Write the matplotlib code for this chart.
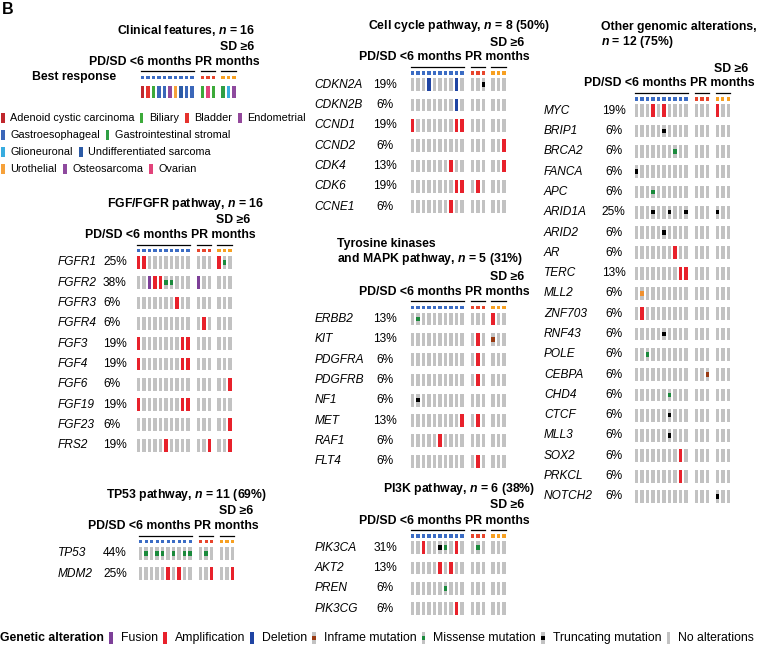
import numpy as np
import matplotlib.pyplot as plt

plt.rcParams['font.family'] = ['Liberation Sans', 'DejaVu Sans']
plt.rcParams['mathtext.fontset'] = 'custom'
plt.rcParams['mathtext.it'] = 'Liberation Sans:italic:bold'

# ---- data ----
# column order: 10 PD/SD <6 months, 3 PR, 3 SD >=6 months
tumor_per_patient = ['Adenoid cystic carcinoma', 'Bladder', 'Biliary', 'Gastroesophageal',
                     'Gastroesophageal', 'Endometrial', 'Urothelial', 'Undifferentiated sarcoma',
                     'Gastroesophageal', 'Gastroesophageal',
                     'Biliary', 'Ovarian', 'Biliary',
                     'Gastrointestinal stromal', 'Glioneuronal', 'Osteosarcoma']
response = ['PD'] * 10 + ['PR'] * 3 + ['SD'] * 3

tumor_legend_rows = [['Adenoid cystic carcinoma', 'Biliary', 'Bladder', 'Endometrial'],
                     ['Gastroesophageal', 'Gastrointestinal stromal'],
                     ['Glioneuronal', 'Undifferentiated sarcoma'],
                     ['Urothelial', 'Osteosarcoma', 'Ovarian']]

# codes: . none, A amplification, D deletion, F fusion, M missense, T truncating, I inframe, O other
fgf_genes = ['FGFR1', 'FGFR2', 'FGFR3', 'FGFR4', 'FGF3', 'FGF4', 'FGF6', 'FGF19', 'FGF23', 'FRS2']
fgf_pct = ['25%', '38%', '6%', '6%', '19%', '19%', '6%', '19%', '6%', '19%']
fgf_alt = ['AA........' '...' 'AM.',
           '..FAAMM...' 'F..' '...',
           '.......A..' '...' '...',
           '..........' '.A.' '...',
           'A.......AA' '...' '...',
           'A.......AA' '...' '...',
           '..........' '...' '..A',
           'A.......AA' '...' '...',
           '..........' '...' '..A',
           '.....A....' '..A' '..A']

tp53_genes = ['TP53', 'MDM2']
tp53_pct = ['44%', '25%']
tp53_alt = ['.M.MM.M.MM' '.M.' '...',
            '.....A.A..' '..A' '..A']

cc_genes = ['CDKN2A', 'CDKN2B', 'CCND1', 'CCND2', 'CDK4', 'CDK6', 'CCNE1']
cc_pct = ['19%', '6%', '19%', '6%', '13%', '19%', '6%']
cc_alt = ['...D....D.' '..T' '...',
          '........D.' '...' '...',
          'A.......AA' '...' '...',
          '..........' '...' '..A',
          '.......A..' '...' '..A',
          '........AA' '.A.' '...',
          '.......A..' '...' '...']

tk_genes = ['ERBB2', 'KIT', 'PDGFRA', 'PDGFRB', 'NF1', 'MET', 'RAF1', 'FLT4']
tk_pct = ['13%', '13%', '6%', '6%', '6%', '13%', '6%', '6%']
tk_alt = ['.M........' '...' 'A..',
          '..........' '.A.' 'I..',
          '..........' '.A.' '...',
          '..........' '.A.' '...',
          '.T........' '...' '...',
          '.........A' '.A.' '...',
          '.....A....' '...' '...',
          '..........' '.A.' '...']

pi3k_genes = ['PIK3CA', 'AKT2', 'PREN', 'PIK3CG']
pi3k_pct = ['31%', '13%', '6%', '6%']
pi3k_alt = ['..A..TM.A.' '.M.' '...',
            '.....A.A..' '...' '...',
            '......M...' '...' '...',
            '........A.' '...' '...']

oth_genes = ['MYC', 'BRIP1', 'BRCA2', 'FANCA', 'APC', 'ARID1A', 'ARID2', 'AR', 'TERC', 'MLL2',
             'ZNF703', 'RNF43', 'POLE', 'CEBPA', 'CHD4', 'CTCF', 'MLL3', 'SOX2', 'PRKCL', 'NOTCH2']
oth_pct = ['19%', '6%', '6%', '6%', '6%', '25%', '6%', '6%', '13%', '6%',
           '6%', '6%', '6%', '6%', '6%', '6%', '6%', '6%', '6%', '6%']
oth_alt = ['...A.A....' '...' 'A..',
           '.....T....' '...' '...',
           '.......M..' '...' '...',
           'T.........' '...' '...',
           '...M......' '...' '...',
           '...T..T..T' '...' 'T..',
           '.....T....' '...' '...',
           '.......A..' '...' '...',
           '........AA' '...' '...',
           '.O........' '...' '...',
           '.A........' '...' '...',
           '.....T....' '...' '...',
           '..M.......' '...' '...',
           '..........' '..I' '...',
           '......M...' '...' '...',
           '......T...' '...' '...',
           '......T...' '...' '...',
           '........A.' '...' '...',
           '........A.' '...' '...',
           '..........' '...' 'T..']

alt_legend = ['Fusion', 'Amplification', 'Deletion', 'Inframe mutation',
              'Missense mutation', 'Truncating mutation', 'No alterations']
alt_codes = ['F', 'A', 'D', 'I', 'M', 'T', '.']

# ---- styles ----
tumor_colors = {'Adenoid cystic carcinoma': '#c0272d', 'Biliary': '#3caa3a', 'Bladder': '#e5322d',
                'Endometrial': '#93489b', 'Gastroesophageal': '#3b67b9',
                'Gastrointestinal stromal': '#2f9e44', 'Glioneuronal': '#38acdf',
                'Undifferentiated sarcoma': '#2c5ba6', 'Urothelial': '#f6a13a',
                'Osteosarcoma': '#8e4a9e', 'Ovarian': '#e2437a'}
resp_colors = {'PD': '#3b6cc4', 'PR': '#e8452c', 'SD': '#f7a021'}
GREY = '#c2c2c2'
full_colors = {'A': '#e8212b', 'D': '#1f44a3', 'F': '#7d3f98', '.': GREY}
mut_colors = {'M': '#1a8a3c', 'T': '#000000', 'I': '#993a12', 'O': '#f0902e'}

PITCH, GAP1, GAP2 = 5.5, 10.5, 9.8
col_off = np.array([k * PITCH for k in range(10)] +
                   [9 * PITCH + GAP1 + k * PITCH for k in range(3)] +
                   [9 * PITCH + GAP1 + 2 * PITCH + GAP2 + k * PITCH for k in range(3)])
CELL_W, CELL_H, MUT_H = 3.5, 12.8, 4.5
ROW = 20.3
FS_HEAD, FS_GENE, FS_LEG = 8.8, 8.6, 7.8
EM = FS_HEAD * 100 / 72  # px per em for header text

fig = plt.figure(figsize=(7.57, 6.49), dpi=100)
ax = fig.add_axes([0, 0, 1, 1])
ax.set_xlim(0, 757)
ax.set_ylim(649, 0)
ax.axis('off')


def header(x0, y_sq, title=None, title_x=0):
    xs = x0 + col_off
    if title:
        ax.text(title_x, y_sq - 47, title, fontsize=FS_HEAD, fontweight='bold', ha='left', va='center')
    x_start = xs[9] - 102.5
    ax.text(x_start, y_sq - 15.5, 'PD/SD <6 months PR months', fontsize=FS_HEAD,
            fontweight='bold', ha='left', va='center')
    ax.text(x_start + 12.11 * EM, y_sq - 30.5, 'SD \u22656', fontsize=FS_HEAD,
            fontweight='bold', ha='center', va='center')
    for a, b in [(0, 9), (10, 12), (13, 15)]:
        ax.plot([xs[a] - CELL_W / 2, xs[b] + CELL_W / 2], [y_sq - 6, y_sq - 6], color='black', lw=0.9)
    ax.bar(xs, 3.2, width=3.4, bottom=y_sq - 1.6, color=[resp_colors[r] for r in response], linewidth=0)


def grid(x0, y_sq, genes, pcts, alts, gene_x, pct_x, pct_ha):
    xs = x0 + col_off
    for i, (g, p, a) in enumerate(zip(genes, pcts, alts)):
        y = y_sq + 11.7 + i * ROW
        ax.text(gene_x, y, g, style='italic', fontsize=FS_GENE, ha='left', va='center')
        ax.text(pct_x, y, p, fontsize=FS_GENE, ha=pct_ha, va='center')
        codes = np.array(list(a))
        ax.bar(xs, CELL_H, width=CELL_W, bottom=y - CELL_H / 2,
               color=[full_colors.get(c, GREY) for c in codes], linewidth=0)
        mut = np.isin(codes, list(mut_colors))
        if mut.any():
            ax.bar(xs[mut], MUT_H, width=CELL_W, bottom=y - MUT_H / 2,
                   color=[mut_colors[c] for c in codes[mut]], linewidth=0)


ax.text(2, 9, 'B', fontsize=11.5, fontweight='bold', ha='left', va='center')

# clinical features
header(142.3, 77.3, 'Clinical features, $n$ = 16', 117)
ax.text(32.3, 77.3, 'Best response', fontsize=FS_HEAD, fontweight='bold', ha='left', va='center')
ax.bar(142.3 + col_off, 12, width=3.5, bottom=85.7,
       color=[tumor_colors[t] for t in tumor_per_patient], linewidth=0)
leg_x = [[3, 141.3, 187, 240], [3, 107.7], [3, 81], [3, 65, 151]]
for r, (names, xs_) in enumerate(zip(tumor_legend_rows, leg_x)):
    y = 117.7 + r * 17.2
    for name, lx in zip(names, xs_):
        ax.bar(lx, 10, width=3.2, bottom=y - 5, color=tumor_colors[name], linewidth=0)
        ax.text(lx + 7.5, y, name, fontsize=FS_LEG, ha='left', va='center')

# left column panels
header(138.3, 250.7, 'FGF/FGFR pathway, $n$ = 16', 107.3)
grid(138.3, 250.7, fgf_genes, fgf_pct, fgf_alt, 58, 103, 'left')
header(140.7, 541.7, 'TP53 pathway, $n$ = 11 (69%)', 106)
grid(140.7, 541.7, tp53_genes, tp53_pct, tp53_alt, 58, 103, 'left')

# middle column panels
header(412.3, 73, 'Cell cycle pathway, $n$ = 8 (50%)', 368)
grid(412.3, 73, cc_genes, cc_pct, cc_alt, 314.3, 385, 'center')
ax.text(337.3, 244.3, 'Tyrosine kinases', fontsize=FS_HEAD, fontweight='bold', ha='left', va='center')
ax.text(337.3, 259.3, 'and MAPK pathway, $n$ = 5 (31%)', fontsize=FS_HEAD, fontweight='bold',
        ha='left', va='center')
header(412.3, 307.3)
grid(412.3, 307.3, tk_genes, tk_pct, tk_alt, 314.3, 385, 'center')
header(412.3, 536, 'PI3K pathway, $n$ = 6 (38%)', 382.7)
grid(412.3, 536, pi3k_genes, pi3k_pct, pi3k_alt, 314.3, 385, 'center')

# right column panel
ax.text(600.7, 26.7, 'Other genomic alterations,', fontsize=FS_HEAD, fontweight='bold', ha='left', va='center')
ax.text(600.7, 42, '$n$ = 12 (75%)', fontsize=FS_HEAD, fontweight='bold', ha='left', va='center')
header(636.5, 99)
grid(636.5, 99, oth_genes, oth_pct, oth_alt, 544, 613.5, 'center')

# genetic alteration legend, laid out left to right from measured text widths
ly = 638
renderer = fig.canvas.get_renderer()
inv = ax.transData.inverted()


def text_width(t):
    bb = t.get_window_extent(renderer)
    return inv.transform((bb.x1, 0))[0] - inv.transform((bb.x0, 0))[0]


t = ax.text(0, ly, 'Genetic alteration', fontsize=8.8, fontweight='bold', ha='left', va='center')
cur = text_width(t)
labels = [ax.text(0, ly, name, fontsize=8.8, ha='left', va='center') for name in alt_legend]
widths = [text_width(lb) for lb in labels]
slot = (754 - cur - sum(widths)) / len(labels)
for lb, w, code in zip(labels, widths, alt_codes):
    px = cur + slot * 0.42
    ax.bar(px, 12, width=3.4, bottom=ly - 6, color=full_colors.get(code, GREY), linewidth=0)
    if code in mut_colors:
        ax.bar(px, 4.5, width=3.4, bottom=ly - 2.25, color=mut_colors[code], linewidth=0)
    lb.set_x(cur + slot)
    cur += slot + w

fig.savefig('out.png', dpi=100)
